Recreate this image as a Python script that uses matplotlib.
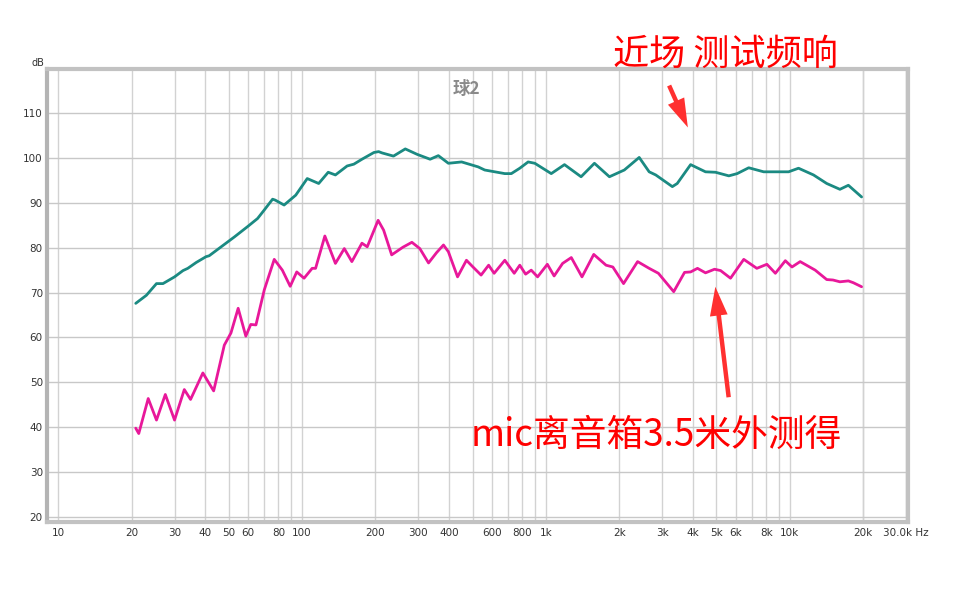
import matplotlib
matplotlib.use("Agg")
import matplotlib.pyplot as plt
from matplotlib.ticker import FixedLocator, NullFormatter

plt.rcParams['font.family'] = ['DejaVu Sans', 'Noto Sans CJK SC']

# ---- data ----
near_freq = [20.8, 23.0, 25.3, 26.9, 30.0, 32.5, 34.0, 36.8, 40.4, 41.6, 46.6, 52.8,
             59.8, 65.7, 70.0, 75.7, 77.6, 84.4, 94.2, 105, 117, 128, 137, 153, 163,
             176, 197, 206, 213, 237, 265, 296, 335, 362, 398, 451, 527, 561, 678,
             721, 781, 845, 900, 1051, 1191, 1393, 1580, 1820, 2095, 2411, 2649,
             2819, 3297, 3453, 3918, 4509, 4955, 5620, 6080, 6780, 7810, 9880,
             10850, 12500, 14160, 16040, 17370, 19680]
near_db = [67.6, 69.4, 72.0, 72.0, 73.5, 74.9, 75.4, 76.7, 78.0, 78.2, 80.2, 82.4,
           84.7, 86.5, 88.4, 90.8, 90.6, 89.5, 91.7, 95.4, 94.3, 96.8, 96.2, 98.2, 98.6,
           99.7, 101.2, 101.4, 101.1, 100.4, 102.0, 100.8, 99.7, 100.5, 98.8, 99.1, 98.0,
           97.3, 96.5, 96.5, 97.7, 99.1, 98.8, 96.5, 98.5, 95.8, 98.8, 95.8, 97.3, 100.1,
           96.9, 96.2, 93.6, 94.3, 98.5, 96.9, 96.8, 96.0, 96.5, 97.8, 96.9, 96.9,
           97.7, 96.2, 94.3, 93.0, 93.9, 91.3]

mic_freq = [20.8, 21.4, 23.4, 25.3, 27.5, 30.0, 32.9, 34.9, 39.2, 43.4, 48.0, 51.1,
            54.7, 58.8, 61.6, 64.7, 70.0, 76.9, 83.0, 89.4, 95.1, 101.9, 110, 113.6,
            124, 137, 149, 160, 176, 185, 205, 216, 233, 259, 282, 304, 330, 356, 380,
            398, 434, 472, 502, 542, 582, 613, 678, 741, 781, 825, 870, 924, 1013,
            1080, 1170, 1270, 1405, 1570, 1763, 1880, 2080, 2375, 2649, 2890, 3340,
            3700, 3918, 4180, 4509, 4910, 5200, 5710, 6470, 7320, 8050, 8720, 9580,
            10200, 11020, 12700, 14160, 15020, 16040, 17370, 18200, 19680]
mic_db = [39.8, 38.6, 46.4, 41.6, 47.3, 41.6, 48.4, 46.2, 52.1, 48.1, 58.3, 61.0,
          66.5, 60.3, 62.9, 62.8, 70.6, 77.4, 75.0, 71.4, 74.6, 73.2, 75.4, 75.4,
          82.6, 76.5, 79.8, 76.9, 81.0, 80.2, 86.1, 83.9, 78.4, 80.1, 81.2, 79.8,
          76.6, 78.9, 80.6, 79.1, 73.5, 77.2, 75.7, 73.9, 76.1, 74.3, 77.2, 74.3,
          76.1, 74.1, 75.0, 73.5, 76.3, 73.7, 76.5, 77.8, 73.5, 78.5, 76.1, 75.7,
          72.0, 76.9, 75.4, 74.3, 70.2, 74.5, 74.6, 75.4, 74.4, 75.2, 74.9, 73.2,
          77.4, 75.4, 76.3, 74.3, 77.1, 75.7, 76.9, 75.0, 72.9, 72.8, 72.4, 72.6,
          72.2, 71.3]

x_tick_vals = [10, 20, 30, 40, 50, 60, 80, 100, 200, 300, 400, 600, 800, 1000,
               2000, 3000, 4000, 5000, 6000, 8000, 10000, 20000, 30000]
x_tick_labels = ['10', '20', '30', '40', '50', '60', '80', '100', '200', '300', '400',
                 '600', '800', '1k', '2k', '3k', '4k', '5k', '6k', '8k', '10k', '20k',
                 '30.0k Hz']
x_grid_vals = [m * 10 ** e for e in range(1, 5) for m in range(1, 10)] + [20000, 30000]
y_tick_vals = [20, 30, 40, 50, 60, 70, 80, 90, 100, 110]

title_text = '球2'
note_near = '近场 测试频响'
note_mic = 'mic离音箱3.5米外测得'

# ---- figure ----
W, H = 973, 591
fig = plt.figure(figsize=(W / 100, H / 100), dpi=100)
L, R, T, B = 47, 908, 69, 522
ax = fig.add_axes([L / W, 1 - B / H, (R - L) / W, (B - T) / H])

ax.set_xscale('log')
ax.set_xlim(9.0, 30500)
ax.set_ylim(18.9, 119.8)

# grid
for xv in x_grid_vals:
    ax.axvline(xv, color='#d2d2d2', lw=1.0, zorder=0)
for yv in y_tick_vals:
    ax.axhline(yv, color='#c8c8c8', lw=1.0, zorder=0)

ax.plot(near_freq, near_db, color='#1b8a82', lw=2.0, solid_joinstyle='round',
        solid_capstyle='round', zorder=3)
ax.plot(mic_freq, mic_db, color='#e8189a', lw=2.0, solid_joinstyle='round',
        solid_capstyle='round', zorder=3)

ax.xaxis.set_major_locator(FixedLocator(x_tick_vals))
ax.xaxis.set_minor_locator(FixedLocator([]))
ax.xaxis.set_minor_formatter(NullFormatter())
ax.set_xticklabels(x_tick_labels)
ax.set_yticks(y_tick_vals)
ax.tick_params(axis='both', length=0, labelsize=7.5, colors='#333333', pad=3)
ax.tick_params(axis='x', pad=4)

for s in ax.spines.values():
    s.set_color('#c2c2c2')
    s.set_linewidth(3)
ax.spines['left'].set_color('#b4b4b4')

fig.text(38 / W, 1 - 63 / H, 'dB', fontsize=7, color='#333333', ha='center', va='center')

ax.text(0.487, 0.975, title_text, transform=ax.transAxes, ha='center', va='top',
        fontsize=12.5, fontweight='bold', color='#8a8a8a',
        family=['Noto Sans CJK SC', 'DejaVu Sans'])

fig.text(725 / W, 1 - 55 / H, note_near, fontsize=26, color='#ff0000',
         ha='center', va='center', family=['Noto Sans CJK SC', 'DejaVu Sans'])
fig.text(656 / W, 1 - 435 / H, note_mic, fontsize=26.5, color='#ff0000',
         ha='center', va='center', family=['Noto Sans CJK SC', 'DejaVu Sans'])

arrow_style = 'simple,head_length=1.3,head_width=0.8,tail_width=0.2'
fig.patches.append(matplotlib.patches.FancyArrowPatch(
    (668 / W, 1 - 83 / H), (689 / W, 1 - 130 / H), transform=fig.transFigure,
    arrowstyle=arrow_style, mutation_scale=16, color='#ff3030', lw=0))
fig.patches.append(matplotlib.patches.FancyArrowPatch(
    (729 / W, 1 - 400 / H), (715 / W, 1 - 284 / H), transform=fig.transFigure,
    arrowstyle=arrow_style, mutation_scale=16, color='#ff3030', lw=0))

fig.savefig('out.png', dpi=100)
